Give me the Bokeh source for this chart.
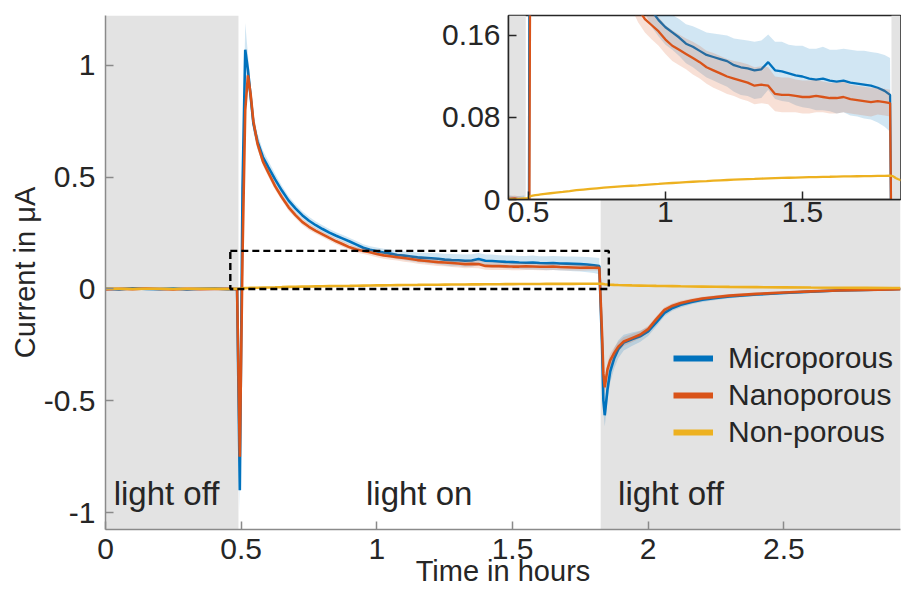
import numpy as np
from bokeh.plotting import figure
from bokeh.models import (Range1d, FixedTicker, BoxAnnotation, Legend, LegendItem,
                          ColumnDataSource)
from bokeh.layouts import column
from bokeh.embed import file_html
from bokeh.resources import INLINE
from bokeh.core.properties import value

# ---------------------------------------------------------------- data
# time axis (hours) and mean photocurrent (µA) of the three electrodes
hours = [
    0.00, 0.05, 0.10, 0.15, 0.20, 0.25, 0.30, 0.35, 0.40, 0.45, 0.485,
    0.495, 0.505, 0.515, 0.525, 0.535, 0.545, 0.56, 0.58, 0.60, 0.625,
    0.65, 0.675, 0.70, 0.725, 0.75, 0.775, 0.80, 0.825, 0.85, 0.875,
    0.900, 0.925, 0.950, 0.975, 1.000, 1.025, 1.050, 1.075, 1.100, 1.125,
    1.150, 1.175, 1.200, 1.225, 1.250, 1.275, 1.300, 1.325, 1.350, 1.375,
    1.400, 1.425, 1.450, 1.475, 1.500, 1.525, 1.550, 1.575, 1.600, 1.625,
    1.650, 1.675, 1.700, 1.725, 1.750, 1.775, 1.800, 1.820,
    1.83, 1.835, 1.84, 1.85, 1.86, 1.875, 1.89, 1.91, 1.94, 1.97,
    2.00, 2.03, 2.06, 2.09, 2.12, 2.16, 2.20, 2.25, 2.30, 2.40,
    2.50, 2.60, 2.70, 2.80, 2.90, 2.93,
]

microporous = [
    0.001, -0.002, 0.003, 0.000, -0.001, 0.002, -0.002, 0.001, 0.002, -0.001, 0.000,
    -0.90, 0.45, 1.07, 0.98, 0.86, 0.74, 0.66, 0.59, 0.545, 0.49,
    0.44, 0.395, 0.36, 0.33, 0.305, 0.285, 0.268, 0.252, 0.238, 0.225,
    0.212, 0.198, 0.184, 0.175, 0.168, 0.163, 0.158, 0.152, 0.149, 0.145,
    0.141, 0.139, 0.137, 0.135, 0.131, 0.129, 0.128, 0.126, 0.127, 0.134,
    0.126, 0.125, 0.123, 0.121, 0.120, 0.118, 0.117, 0.118, 0.116, 0.115,
    0.116, 0.114, 0.113, 0.112, 0.111, 0.109, 0.106, 0.102,
    -0.25, -0.50, -0.565, -0.45, -0.37, -0.31, -0.27, -0.24, -0.225, -0.212,
    -0.19, -0.15, -0.107, -0.085, -0.071, -0.058, -0.048, -0.040, -0.034, -0.025,
    -0.018, -0.012, -0.007, -0.004, -0.001, 0.000,
]

nanoporous = [
    -0.002, 0.001, -0.001, 0.002, 0.000, -0.002, 0.001, -0.001, 0.000, 0.001, -0.001,
    -0.75, 0.15, 0.80, 0.955, 0.87, 0.75, 0.65, 0.57, 0.52, 0.46,
    0.41, 0.365, 0.33, 0.30, 0.278, 0.26, 0.244, 0.228, 0.213, 0.20,
    0.186, 0.176, 0.170, 0.164, 0.156, 0.150, 0.146, 0.142, 0.138, 0.134,
    0.129, 0.126, 0.123, 0.120, 0.118, 0.116, 0.114, 0.111, 0.112, 0.111,
    0.103, 0.102, 0.102, 0.101, 0.100, 0.100, 0.101, 0.100, 0.099, 0.099,
    0.100, 0.098, 0.097, 0.096, 0.095, 0.096, 0.095, 0.094,
    -0.20, -0.38, -0.44, -0.36, -0.32, -0.286, -0.258, -0.235, -0.22, -0.205,
    -0.18, -0.135, -0.094, -0.075, -0.063, -0.052, -0.043, -0.036, -0.030, -0.022,
    -0.016, -0.011, -0.007, -0.004, -0.002, -0.001,
]

non_porous = [
    0.001, 0.001, 0.000, 0.001, 0.001, 0.000, 0.001, 0.001, 0.001, 0.000, 0.001,
    0.001, 0.003, 0.0037, 0.0042, 0.0046, 0.0050, 0.0055, 0.0061, 0.0067, 0.0074,
    0.0082, 0.0091, 0.0097, 0.0103, 0.0109, 0.0115, 0.0120, 0.0125, 0.0130, 0.0134,
    0.0138, 0.0143, 0.0148, 0.0152, 0.0157, 0.0161, 0.0165, 0.0169, 0.0173, 0.0177,
    0.0180, 0.0184, 0.0187, 0.0190, 0.0193, 0.0196, 0.0199, 0.0201, 0.0204, 0.0206,
    0.0208, 0.0210, 0.0212, 0.0214, 0.0216, 0.0218, 0.0219, 0.0221, 0.0222, 0.0224,
    0.0225, 0.0226, 0.0227, 0.0228, 0.0229, 0.0230, 0.0231, 0.0232,
    0.0228, 0.0220, 0.0210, 0.0198, 0.0188, 0.0180, 0.0174, 0.0167, 0.0158, 0.0150,
    0.0143, 0.0136, 0.0130, 0.0124, 0.0118, 0.0111, 0.0105, 0.0098, 0.0091, 0.0080,
    0.0070, 0.0061, 0.0054, 0.0048, 0.0043, 0.0042,
]

# standard deviation over repeated measurements (shaded bands)
microporous_sd = [
    0.004, 0.003, 0.004, 0.004, 0.003, 0.004, 0.004, 0.003, 0.004, 0.004, 0.004,
    0.10, 0.08, 0.12, 0.07, 0.05, 0.04, 0.035, 0.03, 0.028, 0.025,
    0.022, 0.020, 0.019, 0.018, 0.018, 0.017, 0.017, 0.016, 0.016, 0.016,
    0.016, 0.016, 0.016, 0.016, 0.017, 0.017, 0.018, 0.019, 0.020, 0.021,
    0.022, 0.023, 0.024, 0.025, 0.026, 0.027, 0.027, 0.028, 0.028, 0.027,
    0.028, 0.029, 0.028, 0.029, 0.030, 0.029, 0.030, 0.031, 0.030, 0.031,
    0.031, 0.032, 0.032, 0.033, 0.033, 0.034, 0.035, 0.036,
    0.04, 0.05, 0.05, 0.05, 0.05, 0.045, 0.04, 0.035, 0.03, 0.025,
    0.020, 0.018, 0.015, 0.013, 0.012, 0.011, 0.010, 0.009, 0.008, 0.007,
    0.006, 0.006, 0.005, 0.005, 0.005, 0.005,
]

nanoporous_sd = [
    0.003, 0.003, 0.003, 0.003, 0.003, 0.003, 0.003, 0.003, 0.003, 0.003, 0.003,
    0.03, 0.05, 0.04, 0.03, 0.025, 0.02, 0.02, 0.018, 0.017, 0.016,
    0.015, 0.015, 0.014, 0.014, 0.014, 0.013, 0.013, 0.013, 0.013, 0.013,
    0.013, 0.013, 0.014, 0.014, 0.014, 0.015, 0.015, 0.015, 0.016, 0.016,
    0.016, 0.017, 0.017, 0.017, 0.017, 0.018, 0.018, 0.018, 0.018, 0.018,
    0.017, 0.017, 0.017, 0.016, 0.016, 0.016, 0.016, 0.015, 0.015, 0.015,
    0.015, 0.014, 0.014, 0.014, 0.014, 0.013, 0.013, 0.013,
    0.03, 0.035, 0.035, 0.03, 0.03, 0.025, 0.022, 0.02, 0.018, 0.016,
    0.015, 0.013, 0.012, 0.011, 0.010, 0.009, 0.008, 0.008, 0.007, 0.006,
    0.006, 0.005, 0.005, 0.005, 0.004, 0.004,
]

series_names = ["Microporous", "Nanoporous", "Non-porous"]

# illumination switched on / off (hours)
light_on_at = 0.49
light_off_at = 1.825

phase_labels = ["light off", "light on", "light off"]
phase_x = [0.03, 0.96, 1.889]
phase_y = [-0.915, -0.915, -0.915]

x_ticks = [0, 0.5, 1, 1.5, 2, 2.5]
y_ticks = [-1, -0.5, 0, 0.5, 1]
inset_x_ticks = [0.5, 1, 1.5]
inset_y_ticks = [0, 0.08, 0.16]

# region magnified in the inset
zoom_box = dict(left=0.46, right=1.855, bottom=0.0, top=0.17)

# ---------------------------------------------------------------- style
FONT = "Liberation Sans"
TEXT = "#262626"
AXIS_GREY = "#8a8a8a"
SHADE = "#e3e3e3"
BLUE, ORANGE, YELLOW = "#0072BD", "#D95319", "#EDB120"

t = np.array(hours)
mic = np.array(microporous)
nan_ = np.array(nanoporous)
mic_sd = np.array(microporous_sd)
nan_sd = np.array(nanoporous_sd)
src = ColumnDataSource(dict(
    t=t, micro=mic, nano=nan_, non=np.array(non_porous),
    micro_lo=mic - mic_sd, micro_hi=mic + mic_sd,
    nano_lo=nan_ - nan_sd, nano_hi=nan_ + nan_sd,
))


def fmt(v):
    return ("%g" % v)


def style_axis(ax, color, ticks, label_size="30px"):
    ax.ticker = FixedTicker(ticks=ticks)
    ax.major_label_overrides = {float(v): fmt(v) for v in ticks}
    ax.axis_line_color = color
    ax.axis_line_width = 1.5
    ax.major_tick_line_color = color
    ax.major_tick_line_width = 1.5
    ax.major_tick_in = 8
    ax.major_tick_out = 0
    ax.minor_tick_line_color = None
    ax.major_label_text_font = FONT
    ax.major_label_text_font_size = label_size
    ax.major_label_text_color = TEXT
    ax.axis_label_text_font = FONT
    ax.axis_label_text_font_size = "29px"
    ax.axis_label_text_font_style = "normal"
    ax.axis_label_text_color = TEXT


def add_shading(fig):
    fig.add_layout(BoxAnnotation(right=light_on_at, fill_color=SHADE, fill_alpha=1,
                                 line_alpha=0, level="underlay"))
    fig.add_layout(BoxAnnotation(left=light_off_at, fill_color=SHADE, fill_alpha=1,
                                 line_alpha=0, level="underlay"))


def draw_series(fig, width):
    fig.varea(x="t", y1="micro_lo", y2="micro_hi", source=src,
              fill_color=BLUE, fill_alpha=0.18)
    rb = fig.line("t", "micro", source=src, line_color=BLUE, line_width=width)
    fig.varea(x="t", y1="nano_lo", y2="nano_hi", source=src,
              fill_color=ORANGE, fill_alpha=0.18)
    ro = fig.line("t", "nano", source=src, line_color=ORANGE, line_width=width)
    ry = fig.line("t", "non", source=src, line_color=YELLOW, line_width=width)
    return rb, ro, ry


# ---------------------------------------------------------------- main plot
p = figure(width=901, height=589, x_range=Range1d(0, 2.93),
           y_range=Range1d(-1.076, 1.223), output_backend="svg",
           toolbar_location=None, min_border_left=105, min_border_right=1,
           min_border_top=15, min_border_bottom=59)
p.outline_line_color = None
p.background_fill_color = "white"
p.border_fill_color = "white"
p.xgrid.visible = False
p.ygrid.visible = False

add_shading(p)
draw_series(p, 2.6)

p.add_layout(BoxAnnotation(**zoom_box, fill_alpha=0, line_color="black",
                           line_alpha=1, line_width=2.4, line_dash="7 4"))

p.text(x=phase_x, y=phase_y, text=phase_labels, text_font=value(FONT),
       text_font_size="33px", text_color=TEXT, text_baseline="alphabetic")

style_axis(p.xaxis[0], AXIS_GREY, x_ticks)
style_axis(p.yaxis[0], AXIS_GREY, y_ticks)
p.xaxis.axis_label = "Time in hours"
p.yaxis.axis_label = "Current in μA"
p.xaxis.major_label_standoff = 9
p.xaxis.axis_label_standoff = -7
p.yaxis.major_label_standoff = 10
p.yaxis.axis_label_standoff = 0

# legend keys drawn with a heavier stroke than the traces
key_colors = [BLUE, ORANGE, YELLOW]
keys = [p.line(x=[np.nan], y=[np.nan], line_color=c, line_width=6)
        for c in key_colors]
legend = Legend(items=[LegendItem(label=n, renderers=[r])
                       for n, r in zip(series_names, keys)],
                location=(568, 80), orientation="vertical",
                label_text_font=FONT, label_text_font_size="30px",
                label_text_color=TEXT, glyph_width=40, glyph_height=20,
                label_standoff=15, spacing=3, padding=0, margin=0,
                background_fill_alpha=0, border_line_alpha=0)
p.add_layout(legend)

# ---------------------------------------------------------------- inset
# the column aligns plot frames, so the inset keeps the same left border
inset = figure(width=498, height=240, x_range=Range1d(0.427, 1.858),
               y_range=Range1d(0, 0.1795), output_backend="svg",
               toolbar_location=None, min_border_left=105, min_border_right=1,
               min_border_top=15, min_border_bottom=41)
inset.border_fill_alpha = 0
inset.background_fill_color = "white"
inset.outline_line_color = TEXT
inset.outline_line_width = 1.5
inset.xgrid.visible = False
inset.ygrid.visible = False
add_shading(inset)
draw_series(inset, 2.3)
style_axis(inset.xaxis[0], TEXT, inset_x_ticks)
style_axis(inset.yaxis[0], TEXT, inset_y_ticks)
inset.xaxis.major_label_standoff = 2
inset.yaxis.major_label_standoff = 8
inset.margin = (-589, 0, 0, 403)

layout = column(p, inset)
layout.margin = 0
p.margin = 0

open("out.html", "w").write(file_html(layout, INLINE))
